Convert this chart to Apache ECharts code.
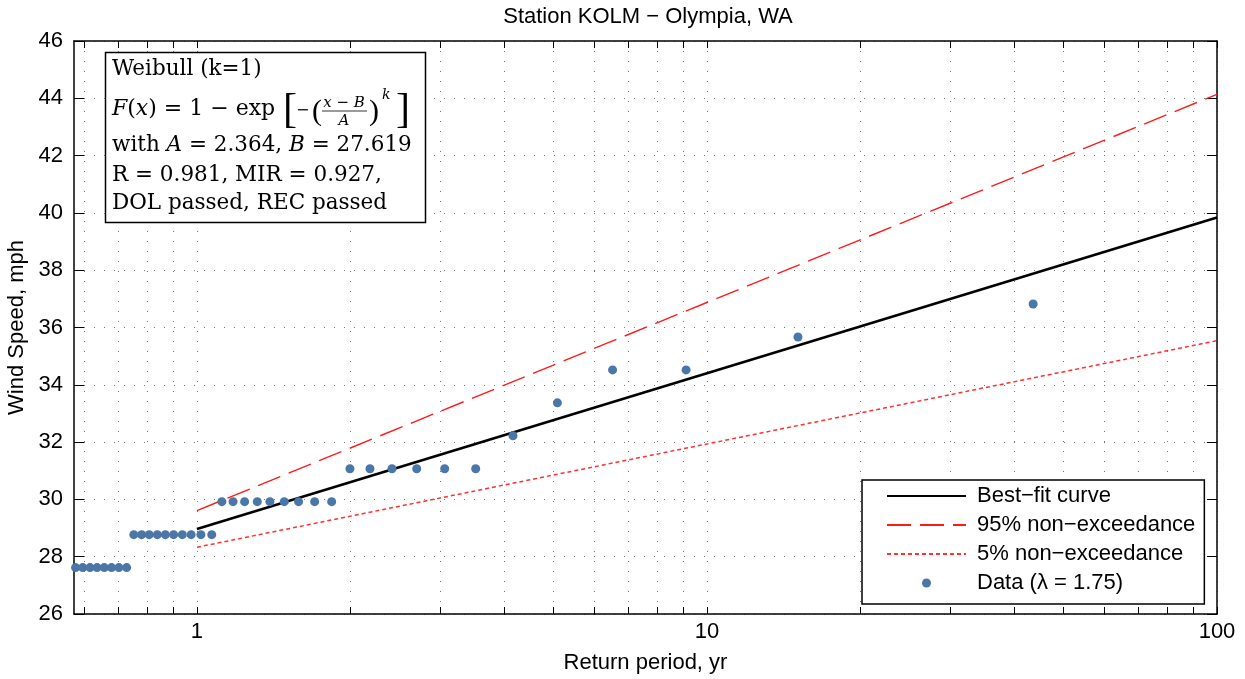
<!DOCTYPE html>
<html>
<head>
<meta charset="utf-8">
<title>Station KOLM - Olympia, WA</title>
<script src="https://cdn.jsdelivr.net/npm/echarts@6.0.0/dist/echarts.min.js"></script>
<style>
  html, body { margin: 0; padding: 0; background: #fff; }
  #main { width: 1245px; height: 679px; }
</style>
</head>
<body>
<div id="main"></div>
<script>
// data
var returnPeriod = [
  0.578, 0.597, 0.617, 0.637, 0.658, 0.680, 0.703, 0.728,
  0.752, 0.779, 0.806, 0.836, 0.867, 0.900, 0.936, 0.974, 1.018, 1.069,
  1.119, 1.177, 1.240, 1.313, 1.390, 1.483, 1.582, 1.701, 1.837,
  1.995, 2.184, 2.412, 2.697, 3.060, 3.520,
  4.165, 5.09, 6.53, 9.10, 15.08, 43.6
];
var windSpeed = [
  27.62, 27.62, 27.62, 27.62, 27.62, 27.62, 27.62, 27.62,
  28.77, 28.77, 28.77, 28.77, 28.77, 28.77, 28.77, 28.77, 28.77, 28.77,
  29.92, 29.92, 29.92, 29.92, 29.92, 29.92, 29.92, 29.92, 29.92,
  31.07, 31.07, 31.07, 31.07, 31.07, 31.07,
  32.22, 33.37, 34.52, 34.52, 35.67, 36.82
];
var fitPeriod = [1, 100];
var bestFit = [28.97, 39.84];
var upper95 = [29.61, 44.14];
var lower5 = [28.33, 35.54];

var xMajor = [1, 10, 100];
var xMinor = [0.6, 0.7, 0.8, 0.9, 2, 3, 4, 5, 6, 7, 8, 9, 20, 30, 40, 50, 60, 70, 80, 90];
var yTicks = [26, 28, 30, 32, 34, 36, 38, 40, 42, 44, 46];
var XMIN = 0.574, XMAX = 100;

var sans = "'Liberation Sans', Arial, sans-serif";
var fs = 22;

function lg(v) { return Math.log10(v); }
function pairs(xs, ys) {
  return xs.map(function (x, i) { return [lg(x), ys[i]]; });
}

var gridDots = { color: '#777', width: 1, type: [1, 9] };
var allXTicks = xMajor.concat(xMinor).map(lg);
var noSymbol = { opacity: 0, color: 'rgba(0,0,0,0)', borderWidth: 0 };

var myChart = echarts.init(document.getElementById('main'));
var option = {
  animation: false,
  backgroundColor: '#fff',
  title: {
    text: 'Station KOLM \u2212 Olympia, WA',
    left: 643,
    top: 1,
    textAlign: 'center',
    textStyle: { fontFamily: sans, fontSize: fs, fontWeight: 'normal', color: '#000' }
  },
  grid: { left: 74, right: 28, top: 41, bottom: 65, containLabel: false, outerBoundsMode: 'none' },
  xAxis: [{
    type: 'value',
    min: lg(XMIN),
    max: lg(XMAX),
    position: 'bottom',
    axisLine: { show: true, onZero: false, lineStyle: { color: '#000', width: 1.5 } },
    axisTick: { show: true, inside: true, length: 7, customValues: allXTicks, lineStyle: { color: '#000', width: 1 } },
    axisLabel: {
      customValues: xMajor.map(lg),
      formatter: function (v) { return String(Math.round(Math.pow(10, v))); },
      fontFamily: sans, fontSize: fs, color: '#000', margin: 7
    },
    splitLine: { show: true, lineStyle: gridDots },
    name: 'Return period, yr',
    nameLocation: 'middle',
    nameGap: 38,
    nameTextStyle: { fontFamily: sans, fontSize: fs, color: '#000' }
  }, {
    type: 'value',
    min: lg(XMIN),
    max: lg(XMAX),
    position: 'top',
    axisLine: { show: true, onZero: false, lineStyle: { color: '#000', width: 1.5 } },
    axisTick: { show: true, inside: true, length: 7, customValues: allXTicks, lineStyle: { color: '#000', width: 1 } },
    axisLabel: { show: false },
    splitLine: { show: false }
  }],
  yAxis: [{
    type: 'value',
    min: 26,
    max: 46,
    interval: 2,
    position: 'left',
    axisLine: { show: true, onZero: false, lineStyle: { color: '#000', width: 1.5 } },
    axisTick: { show: true, inside: true, length: 10, customValues: yTicks, lineStyle: { color: '#000', width: 1 } },
    axisLabel: { fontFamily: sans, fontSize: fs, color: '#000', margin: 11 },
    splitLine: { show: true, lineStyle: gridDots },
    name: 'Wind Speed, mph',
    nameLocation: 'middle',
    nameGap: 42,
    nameTextStyle: { fontFamily: sans, fontSize: fs, color: '#000' }
  }, {
    type: 'value',
    min: 26,
    max: 46,
    interval: 2,
    position: 'right',
    axisLine: { show: true, onZero: false, lineStyle: { color: '#000', width: 1.5 } },
    axisTick: { show: true, inside: true, length: 10, customValues: yTicks, lineStyle: { color: '#000', width: 1 } },
    axisLabel: { show: false },
    splitLine: { show: false }
  }],
  legend: {
    orient: 'vertical',
    left: 862,
    top: 480,
    itemWidth: 79,
    itemHeight: 9,
    itemGap: 7,
    padding: [5, 9, 10, 24],
    backgroundColor: '#fff',
    borderColor: '#000',
    borderWidth: 1.5,
    textStyle: { fontFamily: sans, fontSize: fs, color: '#000', lineHeight: 22, padding: [0, 0, 0, 6] },
    data: [
      { name: 'Best\u2212fit curve', itemStyle: noSymbol },
      { name: '95% non\u2212exceedance', itemStyle: noSymbol },
      { name: '5% non\u2212exceedance', itemStyle: noSymbol },
      { name: 'Data (\u03bb = 1.75)' }
    ]
  },
  series: [{
    name: 'Best\u2212fit curve',
    type: 'line',
    data: pairs(fitPeriod, bestFit),
    symbol: 'none',
    lineStyle: { color: '#000', width: 2.6 },
    itemStyle: { color: '#000' },
    z: 3
  }, {
    name: '95% non\u2212exceedance',
    type: 'line',
    data: pairs(fitPeriod, upper95),
    symbol: 'none',
    lineStyle: { color: '#ff1a1a', width: 1.4, type: [24, 9] },
    itemStyle: { color: '#ff1a1a' },
    z: 3
  }, {
    name: '5% non\u2212exceedance',
    type: 'line',
    data: pairs(fitPeriod, lower5),
    symbol: 'none',
    lineStyle: { color: '#ff3030', width: 1.5, type: [4, 3] },
    itemStyle: { color: '#ff3030' },
    z: 3
  }, {
    name: 'Data (\u03bb = 1.75)',
    type: 'scatter',
    data: pairs(returnPeriod, windSpeed),
    symbol: 'circle',
    symbolSize: 9,
    itemStyle: { color: '#4a76a8', opacity: 1 },
    z: 5
  }],
  graphic: {
    elements: [{
      type: 'rect',
      shape: { x: 105.5, y: 52.5, width: 320, height: 170 },
      style: { fill: '#fff', stroke: '#000', lineWidth: 1.5 },
      z: 100
    }, {
      type: 'text', x: 112, y: 69, z: 101,
      style: { text: 'Weibull (k=1)', font: "21.5px 'DejaVu Serif', serif", fill: '#000', verticalAlign: 'middle' }
    }, {
      type: 'text', x: 112, y: 109, z: 101,
      style: {
        text: '{i|F}({i|x}) = 1 \u2212 exp',
        font: "22px 'DejaVu Serif', serif", fill: '#000', verticalAlign: 'middle',
        rich: { i: { font: "italic 22px 'DejaVu Serif', serif" } }
      }
    }, {
      type: 'text', x: 283, y: 111, z: 101,
      style: { text: '[', font: "42px 'Liberation Serif', serif", fill: '#000', verticalAlign: 'middle' }
    }, {
      type: 'text', x: 296, y: 111, z: 101,
      style: { text: '\u2212', font: "16px 'DejaVu Serif', serif", fill: '#000', verticalAlign: 'middle' }
    }, {
      type: 'text', x: 312, y: 112, z: 101,
      style: { text: '(', font: "30px 'Liberation Serif', serif", fill: '#000', verticalAlign: 'middle' }
    }, {
      type: 'text', x: 344, y: 103, z: 101,
      style: {
        text: '{i|x} \u2212 {i|B}',
        font: "15px 'DejaVu Serif', serif", fill: '#000', align: 'center', verticalAlign: 'middle',
        rich: { i: { font: "italic 15px 'DejaVu Serif', serif" } }
      }
    }, {
      type: 'line', z: 101,
      shape: { x1: 322, y1: 111, x2: 367, y2: 111 },
      style: { stroke: '#000', lineWidth: 0.8 }
    }, {
      type: 'text', x: 344, y: 121, z: 101,
      style: { text: 'A', font: "italic 15px 'DejaVu Serif', serif", fill: '#000', align: 'center', verticalAlign: 'middle' }
    }, {
      type: 'text', x: 369, y: 112, z: 101,
      style: { text: ')', font: "30px 'Liberation Serif', serif", fill: '#000', verticalAlign: 'middle' }
    }, {
      type: 'text', x: 382, y: 95, z: 101,
      style: { text: 'k', font: "italic 14px 'DejaVu Serif', serif", fill: '#000', verticalAlign: 'middle' }
    }, {
      type: 'text', x: 396, y: 111, z: 101,
      style: { text: ']', font: "42px 'Liberation Serif', serif", fill: '#000', verticalAlign: 'middle' }
    }, {
      type: 'text', x: 112, y: 145, z: 101,
      style: {
        text: 'with {i|A} = 2.364, {i|B} = 27.619',
        font: "21.5px 'DejaVu Serif', serif", fill: '#000', verticalAlign: 'middle',
        rich: { i: { font: "italic 21.5px 'DejaVu Serif', serif" } }
      }
    }, {
      type: 'text', x: 112, y: 175, z: 101,
      style: { text: 'R = 0.981, MIR = 0.927,', font: "21.5px 'DejaVu Serif', serif", fill: '#000', verticalAlign: 'middle' }
    }, {
      type: 'text', x: 112, y: 203, z: 101,
      style: { text: 'DOL passed, REC passed', font: "21.5px 'DejaVu Serif', serif", fill: '#000', verticalAlign: 'middle' }
    }]
  }
};
myChart.setOption(option);
</script>
</body>
</html>
